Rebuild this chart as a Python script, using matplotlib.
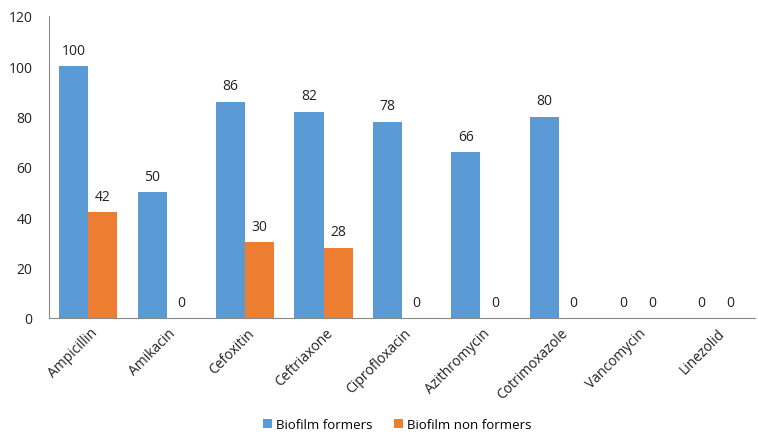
import numpy as np
import matplotlib.pyplot as plt
from matplotlib.transforms import ScaledTranslation

antibioticos = ['Ampicillin', 'Amikacin', 'Cefoxitin', 'Ceftriaxone', 'Ciprofloxacin',
                'Azithromycin', 'Cotrimoxazole', 'Vancomycin', 'Linezolid']
formadores = [100, 50, 86, 82, 78, 66, 80, 0, 0]
no_formadores = [42, 0, 30, 28, 0, 0, 0, 0, 0]

plt.rcParams['font.family'] = ['Open Sans', 'DejaVu Sans']

fig = plt.figure(figsize=(7.58, 4.35), dpi=100)
ax = fig.add_axes([0.0646, 0.2667, 0.9314, 0.6943])

x = np.arange(len(antibioticos))
ancho = 0.37
b1 = ax.bar(x - ancho/2, formadores, ancho, color='#5B9BD5', label='Biofilm formers')
b2 = ax.bar(x + ancho/2, no_formadores, ancho, color='#ED7D31', label='Biofilm non formers')

for barras in (b1, b2):
    for b in barras:
        ax.annotate(f'{int(b.get_height())}', (b.get_x() + b.get_width()/2, b.get_height()),
                    xytext=(0, 6), textcoords='offset points', ha='center', va='bottom',
                    fontsize=10, color='#222222')

ax.set_xlim(-0.5, len(antibioticos) - 0.5)
ax.set_ylim(0, 120)
ax.set_yticks(range(0, 121, 20))
ax.set_xticks(x)
ax.set_xticklabels(antibioticos, rotation=45, ha='right', va='center',
                   rotation_mode='anchor', fontsize=10)
ax.tick_params(axis='both', length=0, labelsize=10, colors='#222222')
ax.tick_params(axis='y', pad=12)
ax.tick_params(axis='x', pad=9)

# desplazar un poco las etiquetas a la derecha
desplazamiento = ScaledTranslation(7/100, 0, fig.dpi_scale_trans)
for etiqueta in ax.get_xticklabels():
    etiqueta.set_transform(etiqueta.get_transform() + desplazamiento)

for lado in ('top', 'right'):
    ax.spines[lado].set_visible(False)
for lado in ('left', 'bottom'):
    ax.spines[lado].set_color('#888888')

fig.legend(loc='center', bbox_to_anchor=(0.524, 0.021), ncol=2, frameon=False,
           fontsize=9.5, handlelength=0.7, handleheight=0.7, handletextpad=0.3,
           columnspacing=1.6, borderpad=0)

fig.savefig('out.png', dpi=100)
